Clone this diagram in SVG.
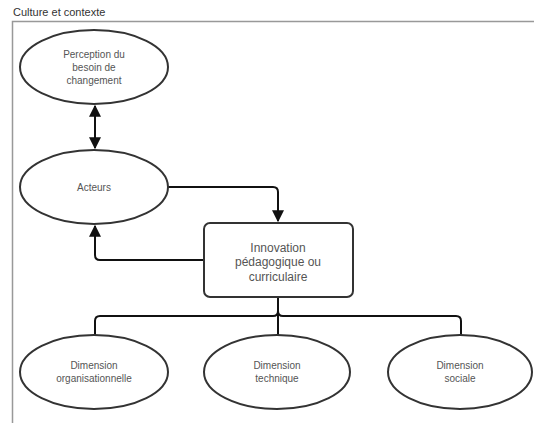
<svg xmlns="http://www.w3.org/2000/svg" width="534" height="423" viewBox="0 0 534 423">
<style>
.n{fill:#fff;stroke:#333;stroke-width:2}
.t{font-family:"Liberation Sans",Arial,sans-serif;font-size:10px;fill:#555;text-anchor:middle}
.b{font-size:12px}
.c{fill:none;stroke:#111;stroke-width:2}
</style>
<defs>
<marker id="ah" viewBox="0 0 10 10" refX="9" refY="5" markerWidth="6" markerHeight="6" orient="auto-start-reverse" markerUnits="strokeWidth">
<path d="M0,0 L10,5 L0,10 z" fill="#111"/>
</marker>
</defs>
<rect width="534" height="423" fill="#fff"/>
<g id="container">
<path d="M12.5 423 V21.5 H534" fill="none" stroke="#999" stroke-width="1.5"/>
<text x="13" y="16" font-family="Liberation Sans,Arial,sans-serif" font-size="11" fill="#333">Culture et contexte</text>
</g>
<g id="connectors">
<path class="c" d="M95 106 V148" marker-start="url(#ah)" marker-end="url(#ah)"/>
<path class="c" d="M168 187 H273 Q278 187 278 192 V221" marker-end="url(#ah)"/>
<path class="c" d="M204 260 H100 Q95 260 95 255 V226" marker-end="url(#ah)"/>
<path class="c" d="M278 297 V335"/>
<path class="c" d="M278 311 Q278 316 273 316 H100 Q95 316 95 321 V335"/>
<path class="c" d="M278 311 Q278 316 283 316 H456 Q461 316 461 321 V335"/>
</g>
<g id="perception">
<ellipse class="n" cx="94" cy="67" rx="74" ry="37"/>
<text class="t" x="94" y="58">Perception du</text>
<text class="t" x="94" y="71">besoin de</text>
<text class="t" x="94" y="84">changement</text>
</g>
<g id="acteurs">
<ellipse class="n" cx="94" cy="187" rx="74" ry="37"/>
<text class="t" x="94" y="191">Acteurs</text>
</g>
<g id="innovation">
<rect class="n" x="204" y="223" width="149" height="74" rx="6"/>
<text class="t b" x="278" y="252">Innovation</text>
<text class="t b" x="278" y="266">pédagogique ou</text>
<text class="t b" x="278" y="281">curriculaire</text>
</g>
<g id="organisationnelle">
<ellipse class="n" cx="94" cy="372" rx="74" ry="37"/>
<text class="t" x="94" y="369">Dimension</text>
<text class="t" x="94" y="382">organisationnelle</text>
</g>
<g id="technique">
<ellipse class="n" cx="277" cy="372" rx="73" ry="37"/>
<text class="t" x="277" y="369">Dimension</text>
<text class="t" x="277" y="382">technique</text>
</g>
<g id="sociale">
<ellipse class="n" cx="460" cy="372" rx="72" ry="37"/>
<text class="t" x="460" y="369">Dimension</text>
<text class="t" x="460" y="382">sociale</text>
</g>
</svg>
